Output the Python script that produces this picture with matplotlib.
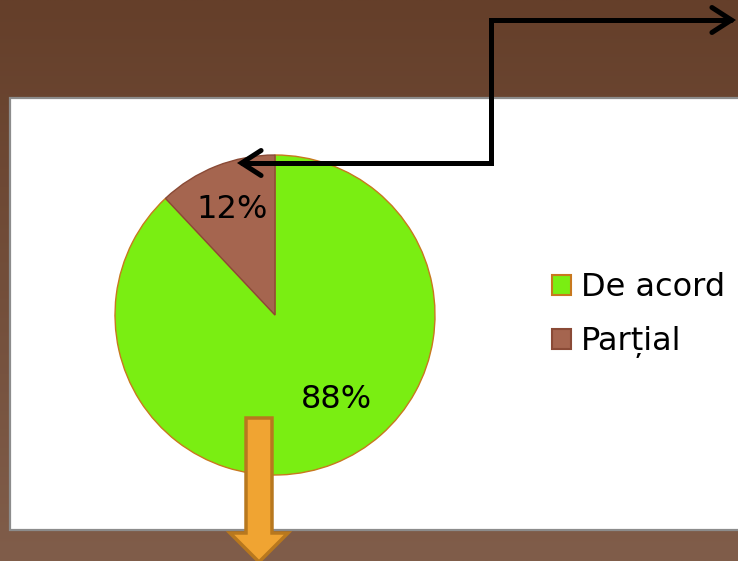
import matplotlib
matplotlib.use("Agg")
import matplotlib.pyplot as plt
import numpy as np
from matplotlib.patches import Rectangle, FancyArrowPatch, Polygon
from matplotlib.path import Path

categories = ["De acord", "Parțial"]
values = [88, 12]
labels_pct = ["88%", "12%"]
colors = ["#7aee12", "#a5654f"]
edges = ["#c8781e", "#8a4a36"]

W, H = 738, 561
fig = plt.figure(figsize=(W / 100, H / 100), dpi=100)

# background gradient
bg = fig.add_axes([0, 0, 1, 1])
bg.set_xlim(0, W)
bg.set_ylim(H, 0)
bg.axis("off")
top = np.array([0x65, 0x3f, 0x2a]) / 255
bot = np.array([0x80, 0x5d, 0x4a]) / 255
t = np.linspace(0, 1, 200)[:, None]
grad = top[None, :] * (1 - t) + bot[None, :] * t
grad = np.repeat(grad[:, None, :], 2, axis=1)
bg.imshow(grad, extent=[0, W, H, 0], aspect="auto", interpolation="bilinear")
bg.add_patch(Rectangle((10, 98), 740, 432, facecolor="white", edgecolor="#8c8c8c", lw=1.6))

# pie
cx, cy, r = 275, 315, 160
ax = fig.add_axes([(cx - r) / W, 1 - (cy + r) / H, 2 * r / W, 2 * r / H])
wedges, texts = ax.pie(values, colors=colors, startangle=90, counterclock=False,
                       radius=1, wedgeprops=dict(linewidth=1.0))
for w, e in zip(wedges, edges):
    w.set_edgecolor(e)
ax.set_xlim(-1, 1)
ax.set_ylim(-1, 1)
ax.set_aspect("auto")
ax.axis("off")
# label positions
pos = [(-54, 0.65), (112, 0.71)]
for lab, (ang, d) in zip(labels_pct, pos):
    a = np.deg2rad(ang)
    ax.text(d * np.cos(a), d * np.sin(a), lab, ha="center", va="center",
            fontsize=23, color="black", family="DejaVu Sans")

# legend
handles = [Rectangle((0, 0), 1, 1, facecolor=c, edgecolor=e, lw=1.5) for c, e in zip(colors, edges)]
fig.legend(handles, categories, loc="center left", bbox_to_anchor=(552 / W, 1 - 315 / H),
           frameon=False, fontsize=23, handlelength=0.6, handleheight=0.6,
           handletextpad=0.3, labelspacing=0.72, borderaxespad=0, borderpad=0)

# overlay arrows
ov = fig.add_axes([0, 0, 1, 1])
ov.set_xlim(0, W)
ov.set_ylim(H, 0)
ov.axis("off")
ov.patch.set_alpha(0)
path = Path([(237, 163), (491, 163), (491, 20), (736, 20)],
            [Path.MOVETO, Path.LINETO, Path.LINETO, Path.LINETO])
arr = FancyArrowPatch(path=path, arrowstyle="<->,head_length=14,head_width=9",
                      color="black", lw=3.6, joinstyle="miter", capstyle="round")
ov.add_patch(arr)
orange = Polygon([(246, 418), (272, 418), (272, 533), (288, 533), (259, 562),
                  (230, 533), (246, 533)], closed=True,
                 facecolor="#f0a432", edgecolor="#b8781e", lw=2.5, joinstyle="miter")
ov.add_patch(orange)

fig.savefig("out.png", dpi=100)
